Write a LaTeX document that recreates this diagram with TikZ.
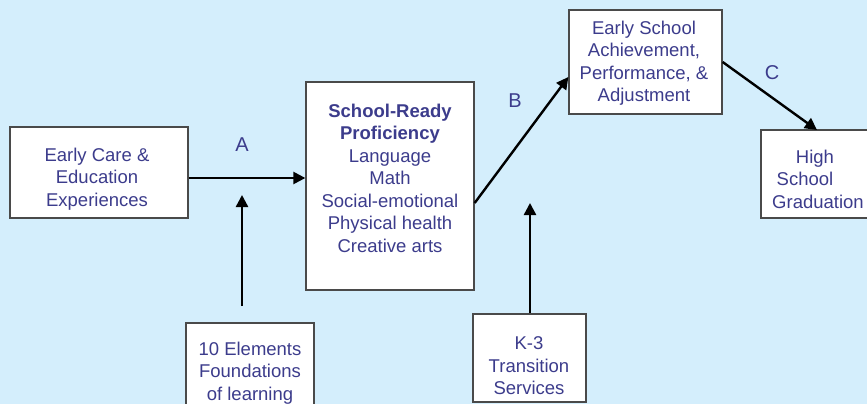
\documentclass[tikz,border=0pt]{standalone}
\usepackage{fontspec}
\setmainfont{Liberation Sans}
\usetikzlibrary{arrows.meta}
\definecolor{bgblue}{HTML}{D4EEFC}
\definecolor{inkblue}{HTML}{3C3C8C}
\definecolor{edge}{HTML}{4A4A4A}
\tikzset{
  box/.style={draw=edge, line width=1.3pt, fill=white, inner sep=0pt},
  txt/.style={text=inkblue, align=center, inner sep=0pt,
    font=\fontsize{18.5}{22.5}\selectfont},
  letter/.style={text=inkblue, inner sep=0pt, font=\fontsize{20}{24}\selectfont},
  flow/.style={draw=black, line width=2.4pt,
    -{Triangle[length=12pt,width=12pt]}, shorten >=0pt},
}
\begin{document}
\begin{tikzpicture}[x=1pt,y=-1pt]
\useasboundingbox (0,0) rectangle (867,404);
\fill[bgblue] (0,0) rectangle (867,404);
\clip (0,0) rectangle (867,404);

% boxes
\node[box, minimum width=178, minimum height=91] (ec) at (99,172.5) {};
\node[box, minimum width=168, minimum height=208] (sr) at (390,186) {};
\node[box, minimum width=153, minimum height=104] (es) at (645.5,62) {};
\node[box, minimum width=110, minimum height=88] (hs) at (816,174) {};
\node[box, minimum width=128, minimum height=110] (el) at (250,378) {};
\node[box, minimum width=113, minimum height=88] (k3) at (529.5,358) {};

% texts
\node[txt] (ect) at (97,179) {Early Care \&\\Education\\Experiences};
\node[txt] (srt) at (390,178) {\textbf{School-Ready}\\\textbf{Proficiency}\\Language\\Math\\Social-emotional\\Physical health\\Creative arts};
\node[txt] (est) at (644,63) {Early School\\Achievement,\\Performance, \&\\Adjustment};
\node[txt, anchor=base] (hs1) at (815,163) {High};
\node[txt, anchor=base] (hs2) at (805,185) {School};
\node[txt, anchor=base] (hs3) at (818,208) {Graduation};
\node[txt] (elt) at (250,373) {10 Elements\\Foundations\\of learning};
\node[txt] (k3t) at (529,366) {K-3\\Transition\\Services};

% path labels
\node[letter] (la) at (242,145) {A};
\node[letter] (lb) at (515,101) {B};
\node[letter] (lc) at (772,73) {C};

% connectors
\coordinate (aIn) at (ec.east |- 0,178);
\coordinate (aOut) at (sr.west |- 0,178);
\draw[flow] (aIn) -- (aOut);

\coordinate (elTop) at (242,306);
\coordinate (elTip) at (242,195);
\draw[flow] (elTop) -- (elTip);

\coordinate (bIn) at (sr.east |- 0,203);
\coordinate (bOut) at (es.west |- 0,77);
\draw[flow] (bIn) -- (bOut);

\coordinate (k3Tip) at (530,203);
\draw[flow] (k3.north -| k3Tip) -- (k3Tip);

\coordinate (cIn) at (es.east |- 0,62);
\coordinate (cOut) at (817,130);
\draw[flow] (cIn) -- (cOut);
\end{tikzpicture}
\end{document}
